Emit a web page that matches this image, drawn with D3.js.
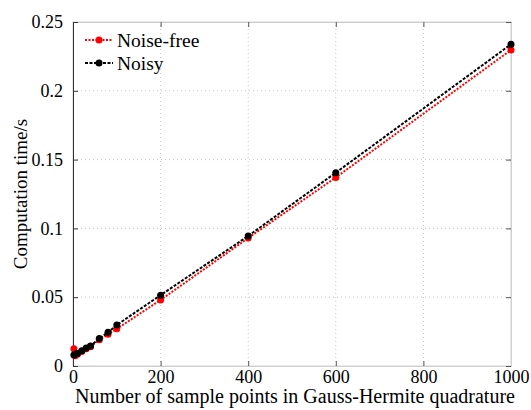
<!DOCTYPE html>
<html>
<head>
<meta charset="utf-8">
<script src="https://cdn.jsdelivr.net/npm/d3@7"></script>
<style>
  html, body { margin: 0; padding: 0; background: #fff; }
  svg, svg text { font-family: "Times New Roman", "Liberation Serif", "DejaVu Serif", serif; }
  svg { display: block; }
</style>
</head>
<body>
<svg id="chart" width="531" height="410"></svg>
<script>
// Sample counts used in the Gauss-Hermite quadrature
const samplePoints = [2, 5, 10, 20, 30, 40, 60, 80, 100, 200, 400, 600, 1000];
// Computation time (s) for the two cases
const noiseFree = [0.0125, 0.0075, 0.0085, 0.0105, 0.0125, 0.014, 0.019, 0.023, 0.027, 0.048, 0.093, 0.137, 0.2297];
const noisy     = [0.008, 0.0085, 0.009, 0.011, 0.013, 0.0145, 0.0200, 0.0245, 0.0298, 0.0515, 0.0945, 0.1405, 0.2338];
const xTicks = [0, 200, 400, 600, 800, 1000];
const yTicks = [0, 0.05, 0.1, 0.15, 0.2, 0.25];
const yTickLabels = ["0", "0.05", "0.1", "0.15", "0.2", "0.25"];
const seriesNames = ["Noise-free", "Noisy"];

const FONT = "'Times New Roman', 'Liberation Serif', 'DejaVu Serif', serif";
const svg = d3.select("#chart");
const m = { left: 73, right: 20, top: 22, bottom: 44 };
const W = 531, H = 410;
const x = d3.scaleLinear().domain([0, 1000]).range([m.left, W - m.right]);
const y = d3.scaleLinear().domain([0, 0.25]).range([H - m.bottom, m.top]);

// grid
const grid = svg.append("g");
grid.selectAll("line.gx").data(xTicks.slice(1, -1)).join("line")
  .attr("x1", d => x(d)).attr("x2", d => x(d))
  .attr("y1", y(0)).attr("y2", y(0.25))
  .attr("stroke", "#c8c8c8").attr("stroke-width", 1).attr("stroke-dasharray", "1,3");
grid.selectAll("line.gy").data(yTicks.slice(1, -1)).join("line")
  .attr("y1", d => y(d)).attr("y2", d => y(d))
  .attr("x1", x(0)).attr("x2", x(1000))
  .attr("stroke", "#c8c8c8").attr("stroke-width", 1).attr("stroke-dasharray", "1,3");

// frame
svg.append("rect")
  .attr("x", x(0)).attr("y", y(0.25))
  .attr("width", x(1000) - x(0)).attr("height", y(0) - y(0.25))
  .attr("fill", "none").attr("stroke", "#d0d0d0").attr("stroke-width", 1);

// axes with inward ticks
const xAxis = svg.append("g").attr("transform", `translate(0,${y(0)})`)
  .call(d3.axisBottom(x).tickValues(xTicks).tickSize(-5).tickPadding(4).tickFormat(d3.format("d")));
const xAxisTop = svg.append("g").attr("transform", `translate(0,${y(0.25)})`)
  .call(d3.axisTop(x).tickValues(xTicks).tickSize(-5).tickFormat(""));
const yAxis = svg.append("g").attr("transform", `translate(${x(0)},0)`)
  .call(d3.axisLeft(y).tickValues(yTicks).tickSize(-5).tickPadding(10)
    .tickFormat((d, i) => yTickLabels[i]));
const yAxisRight = svg.append("g").attr("transform", `translate(${x(1000)},0)`)
  .call(d3.axisRight(y).tickValues(yTicks).tickSize(-5).tickFormat(""));

[xAxis, xAxisTop, yAxis, yAxisRight].forEach(g => g.attr("font-family", FONT).attr("font-size", 18));
[xAxis, xAxisTop, yAxisRight].forEach(g => {
  g.select(".domain").attr("stroke", "#d0d0d0");
  g.selectAll(".tick line").attr("stroke", "#555");
});
yAxis.select(".domain").attr("stroke", "#333");
yAxis.selectAll(".tick line").attr("stroke", "#333");
[xAxis, yAxis].forEach(g => {
  g.selectAll(".tick text").attr("fill", "#000")
    .attr("font-family", FONT).attr("font-size", 18);
});

// axis titles
svg.append("text")
  .attr("x", (x(0) + x(1000)) / 2 + 3).attr("y", 403)
  .attr("text-anchor", "middle")
  .attr("font-family", FONT).attr("font-size", 20)
  .text("Number of sample points in Gauss-Hermite quadrature");
svg.append("text")
  .attr("transform", `translate(27,${(y(0) + y(0.25)) / 2}) rotate(-90)`)
  .attr("text-anchor", "middle")
  .attr("font-family", FONT).attr("font-size", 19)
  .text("Computation time/s");

// series
const series = [
  { name: seriesNames[0], values: noiseFree, color: "#ff0000", dash: "2,1.5" },
  { name: seriesNames[1], values: noisy, color: "#000000", dash: "3,1.5" }
];
const line = d3.line().x((d, i) => x(samplePoints[i])).y(d => y(d));

series.forEach(s => {
  svg.append("path").datum(s.values)
    .attr("d", line).attr("fill", "none")
    .attr("stroke", s.color).attr("stroke-width", 2)
    .attr("stroke-dasharray", s.dash);
  svg.append("g").selectAll("circle").data(s.values).join("circle")
    .attr("cx", (d, i) => x(samplePoints[i])).attr("cy", d => y(d))
    .attr("r", 3.5).attr("fill", s.color);
});

// legend
const lg = svg.append("g");
series.forEach((s, i) => {
  const ly = 40 + i * 23;
  lg.append("line").attr("x1", 85).attr("x2", 113).attr("y1", ly).attr("y2", ly)
    .attr("stroke", s.color).attr("stroke-width", 2).attr("stroke-dasharray", s.dash);
  lg.append("circle").attr("cx", 99).attr("cy", ly).attr("r", 3.5).attr("fill", s.color);
  lg.append("text").attr("x", 117).attr("y", ly + 6.5)
    .attr("font-family", FONT).attr("font-size", 19.5).text(s.name);
});
</script>
</body>
</html>
